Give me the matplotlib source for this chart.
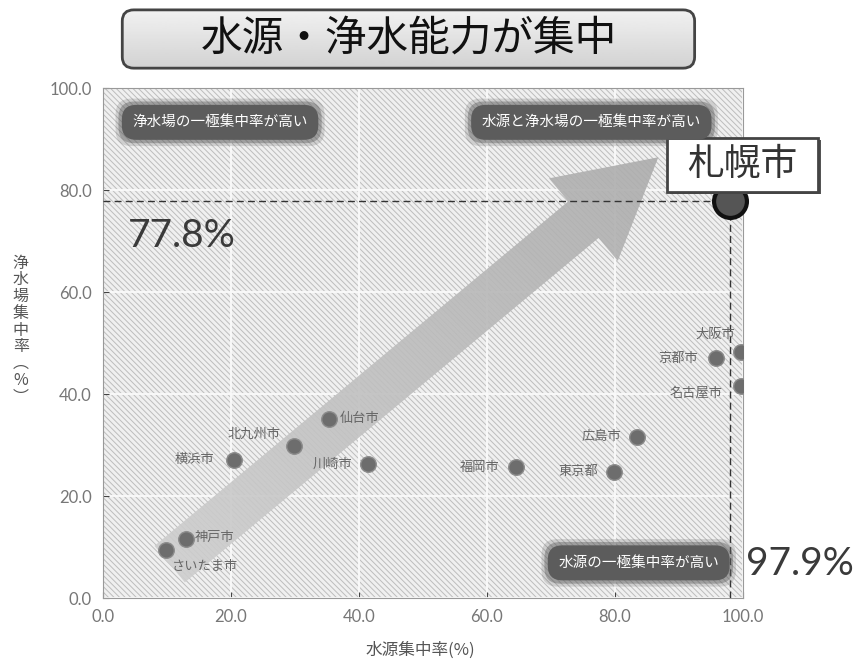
import matplotlib
matplotlib.use("Agg")
import matplotlib.pyplot as plt
import numpy as np
from matplotlib.patches import FancyArrowPatch, FancyBboxPatch, Rectangle

plt.rcParams['font.family'] = ['Noto Sans CJK JP', 'DejaVu Sans']
plt.rcParams['hatch.color'] = '#bdbdbd'
plt.rcParams['hatch.linewidth'] = 0.7

# ---- data ----
cities = ['さいたま市', '神戸市', '横浜市', '北九州市', '仙台市', '川崎市',
          '福岡市', '東京都', '広島市', '京都市', '大阪市', '名古屋市']
water_source = [9.9, 13.0, 20.5, 29.9, 35.3, 41.4, 64.6, 79.8, 83.4, 95.8, 99.7, 99.7]
purification = [9.4, 11.6, 27.1, 29.9, 35.2, 26.3, 25.7, 24.8, 31.6, 47.0, 48.3, 41.5]
highlight_city = '札幌市'
highlight_x = 97.9
highlight_y = 77.8
title = '水源・浄水能力が集中'
quadrant_labels = ['浄水場の一極集中率が高い', '水源と浄水場の一極集中率が高い', '水源の一極集中率が高い']
ticks = [0, 20, 40, 60, 80, 100]
xlabel = '水源集中率(%)'
ylabel_chars = ['浄', '水', '場', '集', '中', '率', '︵', '%', '︶']

# label offsets (points) and alignment per city
offsets = {
    'さいたま市': ((28, -12), 'center'),
    '神戸市': ((6, 1), 'left'),
    '横浜市': ((-14, 0), 'right'),
    '北九州市': ((-29, 8), 'center'),
    '仙台市': ((8, 0), 'left'),
    '川崎市': ((-11, 0), 'right'),
    '福岡市': ((-12, 0), 'right'),
    '東京都': ((-11, 0), 'right'),
    '広島市': ((-11, 0), 'right'),
    '京都市': ((-13, 0), 'right'),
    '大阪市': ((-4, 13), 'right'),
    '名古屋市': ((-13, -5), 'right'),
}

fig = plt.figure(figsize=(8.65, 6.63), dpi=100)
ax = fig.add_axes([0.119, 0.098, 0.740, 0.769])
ax.set_xlim(0, 100)
ax.set_ylim(0, 100)
ax.set_facecolor('#f0f0f0')
ax.patch.set_hatch('\\\\\\\\\\\\')
ax.patch.set_edgecolor('#bdbdbd')

ax.set_xticks(ticks)
ax.set_yticks(ticks)
ax.set_xticklabels([f'{t:.1f}' for t in ticks])
ax.set_yticklabels([f'{t:.1f}' for t in ticks])
ax.tick_params(direction='in', length=4, color='#444', labelcolor='#777', labelsize=12, pad=8)
for lab in ax.get_xticklabels() + ax.get_yticklabels():
    lab.set_family(['Lato', 'DejaVu Sans'])
ax.grid(True, color='#fafafa', linewidth=1.3)
ax.set_axisbelow(True)
for s in ax.spines.values():
    s.set_color('#999')
    s.set_linewidth(0.8)

# big arrow with gradient fill
arrow = FancyArrowPatch((10.1, 6.3), (87.1, 86.8),
                        arrowstyle='simple,head_length=1.95,head_width=2.15,tail_width=0.95',
                        mutation_scale=36, fc='none', ec='none', lw=0, zorder=2)
ax.add_patch(arrow)
gx, gy = np.meshgrid(np.linspace(0, 1, 200), np.linspace(0, 1, 200))
g = (gx + gy) / 2.0
arrow_img = ax.imshow(0.82 - 0.17 * g, extent=(0, 100, 0, 100), origin='lower', cmap='gray',
                      vmin=0, vmax=1, aspect='auto', zorder=2, alpha=0.9)
arrow_img.set_clip_path(arrow)

# dashed lines
ax.plot([0, highlight_x], [highlight_y, highlight_y], ls='--', color='#333', lw=1, zorder=3,
        dashes=(5, 3))
ax.plot([highlight_x, highlight_x], [0, highlight_y], ls='--', color='#333', lw=1, zorder=3,
        dashes=(5, 3))

# points
ax.scatter(water_source, purification, s=125, color='#6d6d6d', edgecolor='#8c8c8c',
           linewidth=1, zorder=4)
for name, x, y in zip(cities, water_source, purification):
    (dx, dy), ha = offsets[name]
    ax.annotate(name, (x, y), xytext=(dx, dy), textcoords='offset points',
                ha=ha, va='center', fontsize=9.5, color='#666', zorder=5)

ax.scatter([highlight_x], [highlight_y], s=560, color='#555', edgecolor='#111',
           linewidth=3, zorder=6, clip_on=False)

# highlight label box
ax.add_patch(Rectangle((88.6, 79.2), 23.6, 10.6, fc='#555', ec='none', zorder=6, clip_on=False))
ax.add_patch(Rectangle((88.1, 79.7), 23.6, 10.6, fc='white', ec='#444', lw=2, zorder=7,
                       clip_on=False))
ax.text(99.9, 85.0, highlight_city, ha='center', va='center', fontsize=26.5, color='#333',
        zorder=8, clip_on=False)

# percentage texts
ax.text(3.9, 71.0, f'{highlight_y}%', ha='left', va='center', fontsize=28, color='#3a3a3a',
        family=['Lato', 'DejaVu Sans'], zorder=7)
ax.text(100.5, 6.6, f'{highlight_x}%', ha='left', va='center', fontsize=28, color='#3a3a3a',
        family=['Lato', 'DejaVu Sans'], zorder=7, clip_on=False)

# quadrant labels
quad_pos = [(18.3, 93.3), (76.3, 93.3), (83.7, 6.9)]
for txt, (qx, qy) in zip(quadrant_labels, quad_pos):
    for pad, a in [(1.15, 0.22), (0.95, 0.42)]:
        ax.text(qx, qy, txt, ha='center', va='center', fontsize=10.5, color='none', zorder=6,
                bbox=dict(boxstyle=f'round,pad={pad},rounding_size=1.1', fc='#5c5c5c', ec='none', alpha=a))
    ax.text(qx, qy, txt, ha='center', va='center', fontsize=10.5, color='white', zorder=7,
            bbox=dict(boxstyle='round,pad=0.72,rounding_size=1.0', fc='#5c5c5c', ec='none'))

# axis labels
fig.text(0.486, 0.020, xlabel, ha='center', va='center', fontsize=12, color='#555')
fig.text(0.024, 0.502, '\n'.join(ylabel_chars), ha='center', va='center', fontsize=11.5,
         color='#555', linespacing=0.98)

# title box with gradient
tax = fig.add_axes([0.1387, 0.8944, 0.667, 0.0935])
tax.set_xlim(0, 1)
tax.set_ylim(0, 1)
tax.axis('off')
box = FancyBboxPatch((0.004, 0.03), 0.992, 0.94, boxstyle='round,pad=0,rounding_size=0.02',
                     transform=tax.transAxes, fc='none', ec='#444', lw=2, mutation_aspect=9)
grad = np.linspace(0.95, 0.82, 64).reshape(-1, 1)
im = tax.imshow(grad, extent=(0, 1, 0, 1), aspect='auto', cmap='gray', vmin=0, vmax=1,
                origin='upper', transform=tax.transAxes)
im.set_clip_path(box)
tax.add_patch(box)
tax.text(0.5, 0.5, title, ha='center', va='center', fontsize=30, color='#111')

fig.savefig('out.png', dpi=100, facecolor='white')
